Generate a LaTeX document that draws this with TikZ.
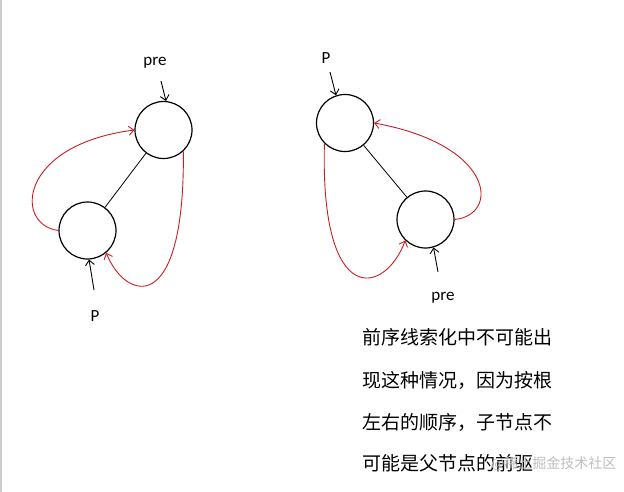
\documentclass[tikz,border=0pt]{standalone}
\usepackage{fontspec}
\usetikzlibrary{arrows.meta}
\setmainfont{Carlito}
\newfontfamily\cjk{Noto Sans CJK SC}
\definecolor{threadred}{RGB}{200,30,35}
\definecolor{edgegray}{RGB}{205,205,205}
\definecolor{markgray}{RGB}{190,190,190}

\begin{document}
\begin{tikzpicture}[x=1pt,y=-1pt,>={Straight Barb[length=5pt,width=9pt]}]
  \tikzset{
    treenode/.style={circle,draw,line width=1.2pt,minimum size=57pt,inner sep=0pt},
    thread/.style={draw=threadred,line width=0.9pt,->},
    pointer/.style={line width=0.9pt,->},
    lbl/.style={font=\fontsize{17}{20}\selectfont,inner sep=0pt},
    note/.style={font=\cjk\fontsize{19}{21}\selectfont,anchor=west,inner sep=0pt}
  }
  \useasboundingbox (0,0) rectangle (624,492);
  \fill[edgegray] (0,0) rectangle (2,492);

  % left case
  \node[treenode] (L1) at (163.5,130) {};
  \node[treenode] (L2) at (87.5,230.5) {};
  \draw[line width=0.8pt] (L1) -- (L2);
  \node[lbl] (preL) at (155,63) {pre};
  \coordinate (preLtail) at (161,81);
  \draw[pointer] (preLtail) -- (L1.85);
  \node[lbl] (pL) at (95,316) {P};
  \coordinate (pLtail) at (94,290);
  \draw[pointer] (pLtail) -- (L2.-87);
  \draw[thread] (L2.west) .. controls (14,225) and (18,145) .. (L1.west);
  \draw[thread] (L1.-47) .. controls (185,320) and (125,300) .. (L2.-50);

  % right case
  \node[treenode] (R1) at (345,123) {};
  \node[treenode] (R2) at (425.5,219.5) {};
  \draw[line width=0.8pt] (R1) -- (R2);
  \node[lbl] (pR) at (326,58) {P};
  \coordinate (pRtail) at (330,72);
  \draw[pointer] (pRtail) -- (R1.108);
  \node[lbl] (preR) at (443,298) {pre};
  \coordinate (preRtail) at (438,272);
  \draw[pointer] (preRtail) -- (R2.-74);
  \draw[thread] (R1.-135) .. controls (320,310) and (385,295) .. (R2.-134);
  \draw[thread] (R2.east) .. controls (500,215) and (495,145) .. (R1.east);

  % note
  \node[note] (line1) at (362,337) {前序线索化中不可能出};
  \node[note] (line2) at (362,380) {现这种情况，因为按根};
  \node[note] (line3) at (362,422) {左右的顺序，子节点不};
  \node[note] (line4) at (362,463) {可能是父节点的前驱};
  \node[font=\cjk\fontsize{14}{16}\selectfont,text=markgray,anchor=west,inner sep=0pt] (mark) at (491,464) {@稀土掘金技术社区};
\end{tikzpicture}
\end{document}
